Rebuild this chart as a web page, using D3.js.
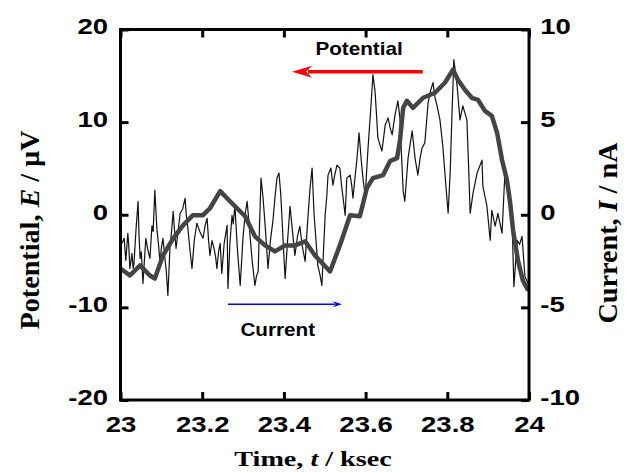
<!DOCTYPE html>
<html>
<head>
<meta charset="utf-8">
<script src="https://cdn.jsdelivr.net/npm/d3@7"></script>
<style>
body { margin: 0; background: #fff; }
.tick-label { font-family: "Liberation Sans", Arial, sans-serif; font-weight: bold; }
.title { font-family: "Liberation Serif", "Times New Roman", serif; font-weight: bold; }
</style>
</head>
<body>
<svg id="chart" width="634" height="473"></svg>
<script>
const timeTicks = [23, 23.2, 23.4, 23.6, 23.8, 24];
const potentialTicks = [-20, -10, 0, 10, 20];
const currentTicks = [-10, -5, 0, 5, 10];

// thick trace: potential, uV
const potentialTime = [23.000, 23.023, 23.048, 23.072, 23.084, 23.104, 23.129, 23.153, 23.177, 23.202,
    23.219, 23.244, 23.268, 23.305, 23.329, 23.354, 23.378, 23.403, 23.427, 23.452,
    23.476, 23.513, 23.537, 23.562, 23.586, 23.603, 23.618, 23.643, 23.660, 23.677,
    23.684, 23.692, 23.701, 23.716, 23.741, 23.770, 23.794, 23.814, 23.826, 23.843,
    23.860, 23.875, 23.892, 23.909, 23.922, 23.934, 23.946, 23.954, 23.961, 23.973,
    23.985, 23.998];
const potentialValue = [-5.80, -6.56, -5.47, -6.56, -6.88, -4.39, -2.55, -1.14, -0.05, -0.05,
    0.70, 2.55, 1.46, -0.16, -2.33, -3.31, -3.96, -3.31, -3.31, -2.87,
    -4.39, -6.12, -3.31, -0.05, -0.16, 2.87, 3.96, 4.28, 5.80, 6.12,
    7.97, 11.54, 12.30, 11.54, 12.63, 13.17, 14.25, 15.66, 14.58, 13.50,
    12.63, 12.41, 11.22, 10.68, 8.83, 5.91, 3.74, 1.25, -1.68, -4.93,
    -7.10, -8.18];

// thin noisy trace: current, nA
const currentTime = [23.002, 23.009, 23.011, 23.013, 23.018, 23.020, 23.023, 23.028, 23.031, 23.033,
    23.038, 23.043, 23.045, 23.048, 23.051, 23.055, 23.059, 23.062, 23.067, 23.072,
    23.077, 23.080, 23.084, 23.086, 23.089, 23.093, 23.097, 23.100, 23.104, 23.108,
    23.112, 23.116, 23.121, 23.125, 23.129, 23.132, 23.136, 23.141, 23.146, 23.152,
    23.158, 23.161, 23.165, 23.170, 23.175, 23.181, 23.187, 23.194, 23.202, 23.207,
    23.212, 23.216, 23.219, 23.224, 23.229, 23.233, 23.236, 23.240, 23.244, 23.248,
    23.254, 23.261, 23.263, 23.268, 23.273, 23.276, 23.280, 23.286, 23.293, 23.300,
    23.305, 23.310, 23.314, 23.317, 23.322, 23.329, 23.333, 23.337, 23.340, 23.344,
    23.349, 23.354, 23.357, 23.361, 23.367, 23.373, 23.378, 23.383, 23.388, 23.392,
    23.395, 23.399, 23.403, 23.409, 23.415, 23.421, 23.427, 23.433, 23.439, 23.445,
    23.452, 23.458, 23.464, 23.469, 23.474, 23.479, 23.483, 23.488, 23.493, 23.497,
    23.501, 23.505, 23.508, 23.515, 23.520, 23.525, 23.530, 23.537, 23.541, 23.545,
    23.550, 23.554, 23.562, 23.566, 23.569, 23.574, 23.579, 23.584, 23.588, 23.591,
    23.595, 23.599, 23.606, 23.611, 23.616, 23.618, 23.623, 23.627, 23.630, 23.640,
    23.648, 23.655, 23.660, 23.665, 23.672, 23.679, 23.684, 23.688, 23.692, 23.696,
    23.700, 23.704, 23.714, 23.721, 23.728, 23.733, 23.738, 23.745, 23.753, 23.759,
    23.765, 23.770, 23.775, 23.782, 23.789, 23.795, 23.802, 23.807, 23.811, 23.816,
    23.824, 23.831, 23.838, 23.848, 23.852, 23.856, 23.863, 23.873, 23.885, 23.887,
    23.892, 23.897, 23.905, 23.909, 23.917, 23.924, 23.934, 23.941, 23.949, 23.958,
    23.963, 23.971, 23.977, 23.983, 23.990, 23.998];
const currentValue = [-1.6, -1.27, -1.9, -2.47, -1.00, -1.6, -2.90, -2.09, -2.9, -2.63,
    -0.8, 0.73, -0.9, -2.36, -2.0, -3.71, -2.3, -1.27, -1.9, -2.36,
    -0.6, -0.9, 1.33, 0.5, -0.73, -1.6, -2.63, -1.8, -1.27, -2.2,
    -3.0, -4.36, -1.8, -0.9, 0.19, -0.8, -1.82, -0.9, 0.08, 0.3,
    0.89, 0.0, -0.73, -1.9, -2.90, -1.3, -0.46, -0.9, -1.27, -0.6,
    -0.19, -1.5, -2.20, -1.4, -1.82, -2.3, -2.90, -2.0, -1.54, -3.17,
    -1.5, -0.57, -3.98, -1.5, -0.03, -0.5, 0.51, -1.8, -3.82, -1.2,
    0.0, 0.73, -0.3, -1.11, -2.4, -3.82, -3.3, -3.06, -0.8, 1.98,
    0.9, -0.57, -1.5, -2.90, -1.4, -0.35, 0.9, 1.98, 2.25, 1.2,
    -0.03, -1.8, -3.44, -1.4, 0.46, -0.9, -2.20, -1.2, -0.62, -1.7,
    -2.52, -0.4, 1.44, 2.52, -0.03, -1.5, -2.74, -3.2, -3.82, -1.9,
    -0.03, 1.0, 2.14, 2.52, 1.60, 2.2, 2.68, 2.52, 1.6, 0.89,
    -0.03, 1.98, 2.14, 1.6, 0.89, 2.0, 3.06, 4.42, 3.3, 2.52,
    1.7, 1.06, 3.60, 5.2, 6.86, 7.56, 6.69, 5.3, 4.15, 3.44,
    4.85, 5.23, 4.7, 4.31, 5.39, 6.15, 5.23, 3.2, 1.27, 0.73,
    1.9, 3.06, 4.53, 3.06, 2.14, 3.0, 3.60, 3.88, 6.04, 6.7,
    7.13, 6.3, 5.88, 5.12, 3.71, 2.0, 0.08, 2.25, 5.12, 8.37,
    6.96, 5.12, 5.88, 5.12, 2.7, 0.08, 1.17, 2.25, 2.95, 1.54,
    1.0, 0.46, -1.38, 0.24, -0.62, 0.08, -1.00, 2.25, 1.54, 0.08,
    -3.88, -1.38, -1.6, -1.17, -3.33, -3.71];

const svg = d3.select("#chart");
const plotLeft = 120.5, plotRight = 529, plotTop = 29.5, plotBottom = 400;

const x = d3.scaleLinear().domain([23, 24]).range([plotLeft, plotRight]);
const yE = d3.scaleLinear().domain([-20, 20]).range([plotBottom, plotTop]);
const yI = d3.scaleLinear().domain([-10, 10]).range([plotBottom, plotTop]);

// traces
const potentialLine = d3.line()
    .x((d, i) => x(potentialTime[i]))
    .y(d => yE(d));
const currentLine = d3.line()
    .x((d, i) => x(currentTime[i]))
    .y(d => yI(d));

svg.append("path")
    .attr("d", currentLine(currentValue))
    .attr("fill", "none")
    .attr("stroke", "#111")
    .attr("stroke-width", 1.2)
    .attr("stroke-linejoin", "round");

svg.append("path")
    .attr("d", potentialLine(potentialValue))
    .attr("fill", "none")
    .attr("stroke", "#444")
    .attr("stroke-width", 4.5)
    .attr("stroke-linejoin", "round");

// axes, inward ticks, plain hyphen for negatives
const plain = d => String(d);
const sx = 1.25;
function styleAxis(g, hideLabels) {
    g.select(".domain").remove();
    g.selectAll(".tick line").attr("stroke", "#000").attr("stroke-width", 3);
    g.selectAll(".tick text")
        .attr("class", "tick-label")
        .attr("font-size", 22)
        .attr("fill", "#000")
        .attr("transform", `scale(${sx},1)`);
    if (hideLabels) g.selectAll(".tick text").remove();
}

svg.append("g")
    .attr("transform", `translate(${plotLeft},0)`)
    .call(d3.axisLeft(yE).tickValues(potentialTicks).tickFormat(plain).tickSize(-8).tickPadding(10))
    .call(g => styleAxis(g))
    .call(g => g.selectAll(".tick text").attr("dy", "0.2em"));

svg.append("g")
    .attr("transform", `translate(${plotRight},0)`)
    .call(d3.axisRight(yI).tickValues(currentTicks).tickFormat(plain).tickSize(-8).tickPadding(9))
    .call(g => styleAxis(g))
    .call(g => g.selectAll(".tick text").attr("dy", "0.2em"));

svg.append("g")
    .attr("transform", `translate(0,${plotBottom})`)
    .call(d3.axisBottom(x).tickValues(timeTicks).tickFormat(plain).tickSize(-8).tickPadding(16))
    .call(g => styleAxis(g));

svg.append("g")
    .attr("transform", `translate(0,${plotTop})`)
    .call(d3.axisTop(x).tickValues(timeTicks).tickSize(-8))
    .call(g => styleAxis(g, true));

// frame
svg.append("rect")
    .attr("x", plotLeft).attr("y", plotTop)
    .attr("width", plotRight - plotLeft).attr("height", plotBottom - plotTop)
    .attr("fill", "none")
    .attr("stroke", "#000")
    .attr("stroke-width", 3);

// axis titles
const xTitle = svg.append("text")
    .attr("class", "title")
    .attr("font-size", 22)
    .attr("text-anchor", "middle")
    .attr("transform", `translate(313,466) scale(1.28,1)`);
xTitle.append("tspan").text("Time, ");
xTitle.append("tspan").attr("font-style", "italic").text("t");
xTitle.append("tspan").text(" / ksec");

const eTitle = svg.append("text")
    .attr("class", "title")
    .attr("font-size", 22)
    .attr("text-anchor", "middle")
    .attr("transform", `translate(39,230) rotate(-90) scale(1.28,1.25)`);
eTitle.append("tspan").text("Potential, ");
eTitle.append("tspan").attr("font-style", "italic").text("E");
eTitle.append("tspan").text(" / μV");

const iTitle = svg.append("text")
    .attr("class", "title")
    .attr("font-size", 22)
    .attr("text-anchor", "middle")
    .attr("transform", `translate(617,233) rotate(-90) scale(1.28,1.25)`);
iTitle.append("tspan").text("Current, ");
iTitle.append("tspan").attr("font-style", "italic").text("I");
iTitle.append("tspan").text(" / nA");

// annotations
function arrow(x0, x1, y, color, width, headLen, headHalf) {
    const dir = Math.sign(x1 - x0);
    svg.append("line")
        .attr("x1", x0).attr("x2", x1 - dir * headLen * 0.8)
        .attr("y1", y).attr("y2", y)
        .attr("stroke", color).attr("stroke-width", width);
    svg.append("path")
        .attr("d", `M${x1},${y} L${x1 - dir * headLen},${y - headHalf} L${x1 - dir * headLen * 0.7},${y} L${x1 - dir * headLen},${y + headHalf} Z`)
        .attr("fill", color);
}

arrow(x(23.74), x(23.42), yE(15.45), "#ff0000", 3.5, 20, 6);
arrow(x(23.263), x(23.542), yI(-4.83), "#0000ff", 1.3, 9, 3);

svg.append("text")
    .attr("class", "tick-label")
    .attr("font-size", 18)
    .attr("text-anchor", "middle")
    .attr("transform", `translate(${x(23.584)},${yE(17.2)}) scale(1.15,1)`)
    .text("Potential");

svg.append("text")
    .attr("class", "tick-label")
    .attr("font-size", 18)
    .attr("text-anchor", "middle")
    .attr("transform", `translate(${x(23.385)},${yI(-6.53)}) scale(1.15,1)`)
    .text("Current");
</script>
</body>
</html>
